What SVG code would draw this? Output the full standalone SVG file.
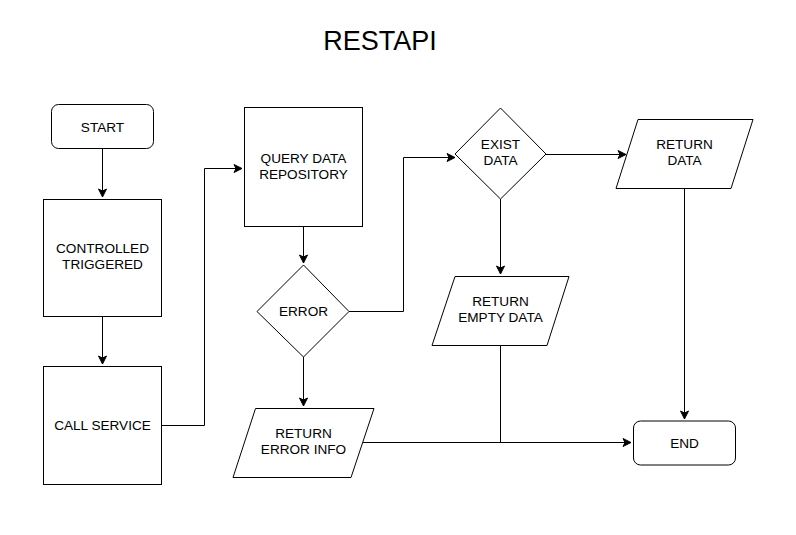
<svg xmlns="http://www.w3.org/2000/svg" width="796" height="535" viewBox="0 0 796 535">
<defs>
<marker id="arr" markerWidth="10" markerHeight="10" refX="9" refY="5" orient="auto" markerUnits="userSpaceOnUse">
<path d="M1,1 L9,5 L1,9 L3,5 z" fill="#000" stroke="#000" stroke-width="1"/>
</marker>
</defs>
<style>
.n{fill:#fff;stroke:#000;stroke-width:1}
.t{font-family:"Liberation Sans",Arial,sans-serif;font-size:13.6px;fill:#000;text-anchor:middle}
.c{fill:none;stroke:#000;stroke-width:1}
</style>
<rect width="796" height="535" fill="#fff"/>
<text x="380" y="50" font-family="Liberation Sans,Arial,sans-serif" font-size="27" text-anchor="middle" fill="#000">RESTAPI</text>
<g id="connectors">
<path class="c" d="M102.5,149 V197" marker-end="url(#arr)"/>
<path class="c" d="M102.5,316 V364" marker-end="url(#arr)"/>
<path class="c" d="M162,425.5 H204.5 V168.5 H242" marker-end="url(#arr)"/>
<path class="c" d="M303.5,227 V263" marker-end="url(#arr)"/>
<path class="c" d="M303.5,357 V406" marker-end="url(#arr)"/>
<path class="c" d="M349,311.5 H403.5 V157.5 H455" marker-end="url(#arr)"/>
<path class="c" d="M546,154.5 H626" marker-end="url(#arr)"/>
<path class="c" d="M500.5,199 V274" marker-end="url(#arr)"/>
<path class="c" d="M684.5,188 V419" marker-end="url(#arr)"/>
<path class="c" d="M363,442.5 H631" marker-end="url(#arr)"/>
<path class="c" d="M500.5,345 V442.5"/>
</g>
<g id="start">
<rect class="n" x="51.5" y="104.5" width="102" height="44" rx="7"/>
<text class="t" x="102.5" y="131.5">START</text>
</g>
<g id="controlled">
<rect class="n" x="43.5" y="199.5" width="118" height="117"/>
<text class="t" x="102.5" y="253">CONTROLLED</text>
<text class="t" x="102.5" y="269">TRIGGERED</text>
</g>
<g id="callservice">
<rect class="n" x="43.5" y="366.5" width="118" height="118"/>
<text class="t" x="102.5" y="430">CALL SERVICE</text>
</g>
<g id="query">
<rect class="n" x="244.5" y="107.5" width="118" height="119"/>
<text class="t" x="303.5" y="163">QUERY DATA</text>
<text class="t" x="303.5" y="179">REPOSITORY</text>
</g>
<g id="error">
<polygon class="n" points="303.5,265 349,311.5 303.5,357 257,311.5"/>
<text class="t" x="303.5" y="316">ERROR</text>
</g>
<g id="errorinfo">
<polygon class="n" points="255.5,408.5 374,408.5 351,477.5 233,477.5"/>
<text class="t" x="303.5" y="438">RETURN</text>
<text class="t" x="303.5" y="454">ERROR INFO</text>
</g>
<g id="exist">
<polygon class="n" points="500.5,108 546,154 500.5,199 455,154"/>
<text class="t" x="500.5" y="149">EXIST</text>
<text class="t" x="500.5" y="165">DATA</text>
</g>
<g id="returndata">
<polygon class="n" points="638,119.5 753,119.5 731,188.5 616,188.5"/>
<text class="t" x="684.5" y="149">RETURN</text>
<text class="t" x="684.5" y="165">DATA</text>
</g>
<g id="emptydata">
<polygon class="n" points="455,276.5 569,276.5 547,345.5 432,345.5"/>
<text class="t" x="500.5" y="306">RETURN</text>
<text class="t" x="500.5" y="322">EMPTY DATA</text>
</g>
<g id="end">
<rect class="n" x="633.5" y="421" width="102" height="44" rx="7"/>
<text class="t" x="684.5" y="447.5">END</text>
</g>
</svg>
